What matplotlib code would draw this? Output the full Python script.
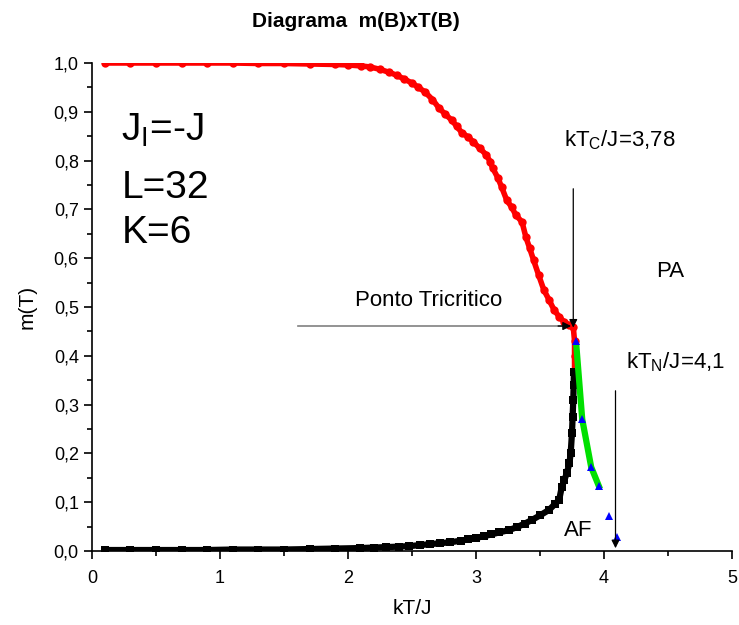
import matplotlib
matplotlib.use("Agg")
import matplotlib.pyplot as plt
from matplotlib.ticker import MultipleLocator

plt.rcParams['font.family'] = ['Liberation Sans', 'DejaVu Sans']
plt.rcParams['mathtext.fontset'] = 'custom'
plt.rcParams['mathtext.rm'] = 'Liberation Sans'

# Magnetization m(T) on the ferromagnetic branch
red_T = [0.10, 0.30, 0.50, 0.70, 0.90, 1.10, 1.30, 1.50, 1.70, 1.90, 2.00, 2.10,
         2.17, 2.25, 2.32, 2.38, 2.44, 2.50, 2.55, 2.60, 2.66, 2.71, 2.76, 2.81,
         2.85, 2.89, 2.94, 2.98, 3.03, 3.08, 3.11, 3.13, 3.17, 3.20, 3.24, 3.28,
         3.31, 3.36, 3.39, 3.42, 3.45, 3.49, 3.53, 3.57, 3.61, 3.65, 3.69, 3.73,
         3.76, 3.77, 3.77, 3.77]
red_m = [1.000, 1.000, 1.000, 1.000, 1.000, 1.000, 0.999, 0.999, 0.998, 0.997, 0.996, 0.994,
         0.992, 0.987, 0.981, 0.975, 0.967, 0.959, 0.950, 0.941, 0.925, 0.908, 0.895, 0.883,
         0.870, 0.857, 0.848, 0.838, 0.825, 0.812, 0.798, 0.785, 0.765, 0.746, 0.719, 0.704,
         0.689, 0.674, 0.643, 0.620, 0.596, 0.565, 0.535, 0.515, 0.494, 0.480, 0.469, 0.463,
         0.459, 0.430, 0.400, 0.370]

# Staggered magnetization on the antiferromagnetic branch
black_T = [0.10, 0.30, 0.50, 0.70, 0.90, 1.10, 1.30, 1.50, 1.70, 1.90, 2.09, 2.20,
           2.30, 2.40, 2.48, 2.56, 2.64, 2.72, 2.80, 2.88, 2.94, 3.00, 3.06, 3.12,
           3.18, 3.26, 3.32, 3.38, 3.44, 3.50, 3.57, 3.62, 3.65, 3.67, 3.69, 3.71,
           3.73, 3.74, 3.75, 3.755, 3.76, 3.763, 3.765]
black_m = [0.002, 0.002, 0.002, 0.002, 0.002, 0.003, 0.003, 0.003, 0.004, 0.005, 0.006, 0.007,
           0.008, 0.009, 0.010, 0.012, 0.014, 0.016, 0.018, 0.021, 0.024, 0.027, 0.030, 0.034,
           0.038, 0.043, 0.049, 0.056, 0.064, 0.073, 0.084, 0.097, 0.105, 0.131, 0.145, 0.160,
           0.180, 0.201, 0.242, 0.275, 0.309, 0.340, 0.367]

# Points above the tricritical point
blue_T = [3.78, 3.83, 3.90, 3.96, 4.04, 4.10]
blue_m = [0.430, 0.270, 0.172, 0.133, 0.072, 0.028]
green_T = [3.785, 3.83, 3.90, 3.96]
green_m = [0.418, 0.270, 0.172, 0.133]

x_ticks = [0, 1, 2, 3, 4, 5]
y_ticks = [0.0, 0.1, 0.2, 0.3, 0.4, 0.5, 0.6, 0.7, 0.8, 0.9, 1.0]
y_tick_labels = ['0,0', '0,1', '0,2', '0,3', '0,4', '0,5', '0,6', '0,7', '0,8', '0,9', '1,0']

fig = plt.figure(figsize=(7.39, 6.25), dpi=100)
ax = fig.add_axes([0.1245, 0.1184, 0.866, 0.7808])

ax.plot(red_T, red_m, color='#ff0000', lw=4.0, marker='o', ms=6,
        markeredgewidth=0, solid_capstyle='round', zorder=3)
ax.plot(black_T, black_m, color='black', lw=4.5, marker='s', ms=5.5,
        markeredgewidth=0, zorder=3)
ax.plot(green_T, green_m, color='#00e000', lw=4.5, zorder=4)
ax.plot(blue_T, blue_m, linestyle='none', marker='^', ms=5.5, color='#0000ff',
        markeredgewidth=0, zorder=5)

ax.set_xlim(0, 5)
ax.set_ylim(0, 1.0)
ax.set_xticks(x_ticks)
ax.set_xticklabels([str(v) for v in x_ticks])
ax.set_yticks(y_ticks)
ax.set_yticklabels(y_tick_labels)
ax.xaxis.set_minor_locator(MultipleLocator(0.5))
ax.yaxis.set_minor_locator(MultipleLocator(0.05))
ax.tick_params(which='major', direction='out', length=6, width=1.2, labelsize=13)
ax.tick_params(axis='x', which='major', pad=8)
ax.tick_params(which='minor', direction='out', length=3.5, width=1.2)
for side in ['top', 'right']:
    ax.spines[side].set_visible(False)
for side in ['left', 'bottom']:
    ax.spines[side].set_linewidth(1.2)

ax.set_xlabel('kT/J', fontsize=15, labelpad=8)
ax.set_ylabel('m(T)', fontsize=15, labelpad=12)
fig.text(0.481, 0.965, 'Diagrama  m(B)xT(B)', fontsize=15, fontweight='bold',
         ha='center', va='center')

# Parameter block
ax.text(0.23, 0.863, 'J$_\\mathregular{I}$=-J', fontsize=28, va='center', ha='left')
ax.text(0.23, 0.744, 'L=32', fontsize=28, va='center', ha='left')
ax.text(0.23, 0.652, 'K=6', fontsize=28, va='center', ha='left')

# Tricritical point arrow
ax.plot([1.61, 3.70], [0.461, 0.461], color='#808080', lw=1.2, zorder=2)
ax.annotate('', xy=(3.765, 0.461), xytext=(3.62, 0.461),
            arrowprops=dict(arrowstyle='-|>', color='black', lw=1.0, mutation_scale=12),
            zorder=6)
ax.text(2.63, 0.514, 'Ponto Tricritico', fontsize=16, ha='center', va='center')

# Critical temperature arrow
ax.annotate('', xy=(3.76, 0.452), xytext=(3.76, 0.748),
            arrowprops=dict(arrowstyle='-|>', color='black', lw=0.9, mutation_scale=12),
            zorder=6)
ax.text(3.69, 0.842, 'kT$_\\mathregular{C}$/J=3,78', fontsize=16, ha='left', va='center')

# Neel temperature arrow
ax.annotate('', xy=(4.09, 0.0), xytext=(4.09, 0.334),
            arrowprops=dict(arrowstyle='-|>', color='black', lw=0.9, mutation_scale=12),
            zorder=6)
ax.text(4.17, 0.387, 'kT$_\\mathregular{N}$/J=4,1', fontsize=16, ha='left', va='center')

ax.text(4.52, 0.572, 'PA', fontsize=16, ha='center', va='center')
ax.text(3.80, 0.043, 'AF', fontsize=16, ha='center', va='center')

fig.savefig('out.png', dpi=100)
